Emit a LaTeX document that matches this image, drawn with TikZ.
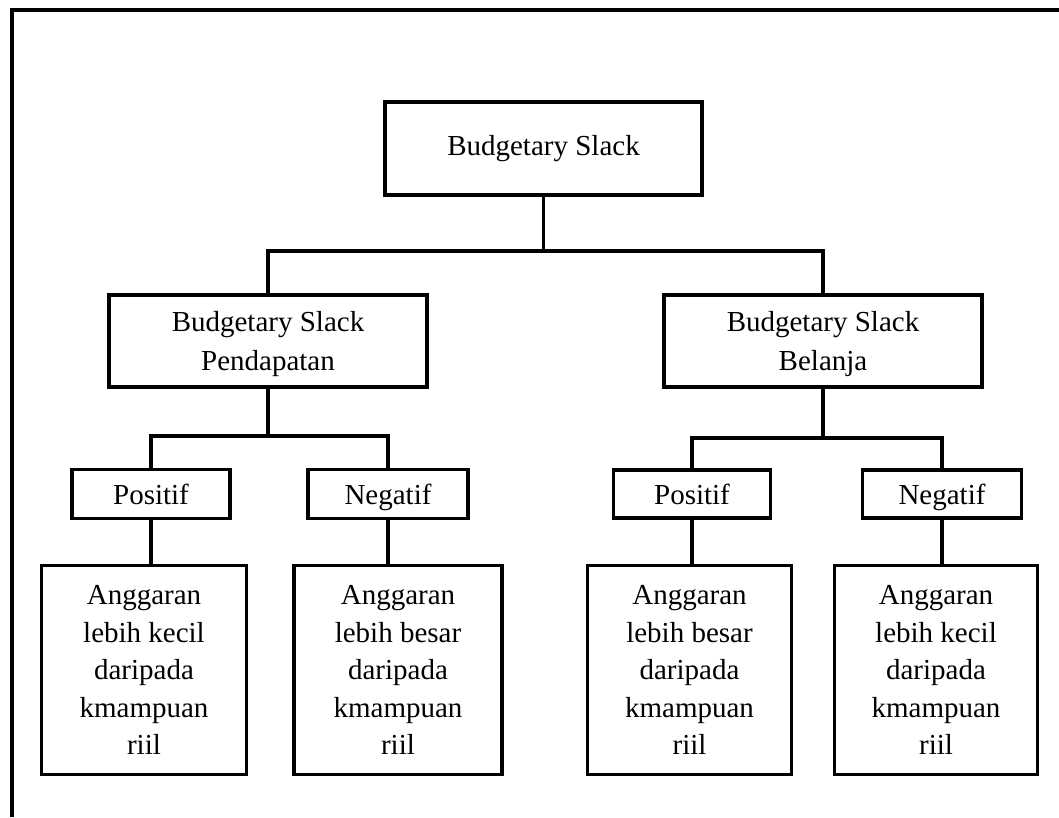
\documentclass[tikz,border=0pt]{standalone}
\usepackage{fontspec}
\setmainfont{Liberation Serif}
\usepackage{tikz}

\tikzset{
	kotak/.style={draw, line width=3.8pt, inner sep=0pt, align=center, font=\fontsize{29}{37.5}\selectfont},
	garis/.style={line width=3.8pt}
}

\begin{document}
\begin{tikzpicture}[x=1pt, y=-1pt]
			\useasboundingbox (0,0) rectangle (1059,817);
			\draw[garis] (12,817) |- (1059,10);
			\node[kotak, minimum width=317, minimum height=93] (utama) at (543.5,148.5) {Budgetary Slack};
			\node[kotak, minimum width=318, minimum height=92, text depth=0pt] (pend) at (268,341) {Budgetary Slack\\[1.5pt]Pendapatan};
			\node[kotak, minimum width=318, minimum height=92, text depth=0pt] (bel) at (823,341) {Budgetary Slack\\[1.5pt]Belanja};
			\node[kotak, minimum width=158, minimum height=49, text depth=0pt] (posP) at (151,494) {Positif};
			\node[kotak, minimum width=160, minimum height=49, text depth=0pt] (negP) at (388,494) {Negatif};
			\node[kotak, minimum width=157, minimum height=48, text depth=0pt] (posB) at (692,494) {Positif};
			\node[kotak, minimum width=159, minimum height=48, text depth=0pt] (negB) at (942,494) {Negatif};
			\node[kotak, minimum width=205, minimum height=209] (ket1) at (144,670) {Anggaran\\lebih kecil\\daripada\\kmampuan\\riil};
			\node[kotak, minimum width=208, minimum height=209] (ket2) at (398,670) {Anggaran\\lebih besar\\daripada\\kmampuan\\riil};
			\node[kotak, minimum width=204, minimum height=209] (ket3) at (689.5,670) {Anggaran\\lebih besar\\daripada\\kmampuan\\riil};
			\node[kotak, minimum width=203, minimum height=209] (ket4) at (936,670) {Anggaran\\lebih kecil\\daripada\\kmampuan\\riil};
			\coordinate (cabang) at (543.5,251);
			\coordinate (cabangP) at (268,436);
			\coordinate (cabangB) at (823,438);
			\draw[garis] (utama) -- (cabang);
			\draw[garis] (pend.north) |- (cabang) -| (bel.north);
			\draw[garis] (pend) -- (cabangP);
			\draw[garis] (posP.north) |- (cabangP) -| (negP.north);
			\draw[garis] (bel) -- (cabangB);
			\draw[garis] (posB.north) |- (cabangB) -| (negB.north);
			\draw[garis] (posP.south) -- (posP.south |- ket1.north);
			\draw[garis] (negP.south) -- (negP.south |- ket2.north);
			\draw[garis] (posB.south) -- (posB.south |- ket3.north);
			\draw[garis] (negB.south) -- (negB.south |- ket4.north);
		\end{tikzpicture}
\end{document}
